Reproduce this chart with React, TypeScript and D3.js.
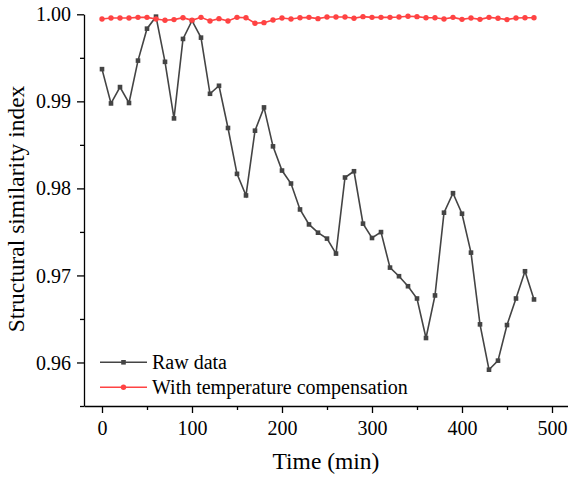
import React, { useEffect, useRef } from "react";
import * as d3 from "d3";

// time in minutes, one sample every 10 min
const times = d3.range(0, 481, 10);

const rawData = [
  0.9937, 0.98976, 0.99164, 0.98981, 0.99468, 0.99835, 0.99973, 0.99454, 0.98804, 0.99717,
  0.99927, 0.99732, 0.99087, 0.99179, 0.98694, 0.98167, 0.97919, 0.98663, 0.9893, 0.98483,
  0.98205, 0.98056, 0.97758, 0.97586, 0.97491, 0.97423, 0.97251, 0.98125, 0.98197, 0.97595,
  0.9743, 0.97498, 0.9709, 0.96991, 0.96876, 0.96735, 0.96281, 0.9677, 0.97721, 0.97945,
  0.97709, 0.97262, 0.96438, 0.95917, 0.96021, 0.9643, 0.96735, 0.97048, 0.96724,
];

const compensated = [
  0.99946, 0.99958, 0.99958, 0.99958, 0.99965, 0.99965, 0.99946, 0.99931, 0.99939, 0.99961,
  0.99931, 0.99965, 0.99923, 0.9995, 0.99923, 0.99965, 0.99961, 0.99897, 0.99904, 0.99935,
  0.99958, 0.99946, 0.99961, 0.99965, 0.9995, 0.99969, 0.99969, 0.99969, 0.99954, 0.99973,
  0.99965, 0.99965, 0.99965, 0.99969, 0.99977, 0.99973, 0.99961, 0.99961, 0.99946, 0.99965,
  0.99942, 0.99958, 0.99942, 0.99965, 0.99954, 0.99939, 0.99958, 0.99961, 0.99961,
];

const xTicks = [0, 100, 200, 300, 400, 500];
const xMinor = [50, 150, 250, 350, 450];
const yTicks = [0.96, 0.97, 0.98, 0.99, 1.0];
const yMinor = [0.955, 0.965, 0.975, 0.985, 0.995];

const legendLabels = ["Raw data", "With temperature compensation"];

const FONT = "Liberation Serif";
const BLACK = "#444444";
const RED = "#ff4343";

export default function App() {
  const ref = useRef<SVGSVGElement>(null);

  useEffect(() => {
    const svg = d3.select(ref.current);
    svg.selectAll("*").remove();

    const left = 84;
    const top = 14.3;
    const bottom = 406;

    const x = d3.scaleLinear().domain([-20, 520]).range([left, left + 540 * 0.9]);
    const y = d3.scaleLinear().domain([0.955, 1.0]).range([bottom, top]);

    const g = svg.append("g");

    // axes
    const xAxis = g.append("g").attr("transform", `translate(0,${bottom})`)
      .call(d3.axisBottom(x).tickValues(xTicks).tickFormat(d3.format("d"))
        .tickSize(7).tickSizeOuter(0).tickPadding(8));
    g.append("g").attr("transform", `translate(0,${bottom})`)
      .call(d3.axisBottom(x).tickValues(xMinor).tickFormat(() => "").tickSize(4).tickSizeOuter(0))
      .select(".domain").remove();

    const yAxis = g.append("g").attr("transform", `translate(${left},0)`)
      .call(d3.axisLeft(y).tickValues(yTicks).tickFormat(d3.format(".2f"))
        .tickSize(7).tickSizeOuter(0).tickPadding(6));
    g.append("g").attr("transform", `translate(${left},0)`)
      .call(d3.axisLeft(y).tickValues(yMinor).tickFormat(() => "").tickSize(4).tickSizeOuter(0))
      .select(".domain").remove();

    g.selectAll(".domain, .tick line").attr("stroke", "#000").attr("stroke-width", 1.3);
    [xAxis, yAxis].forEach((a) => {
      a.attr("font-family", FONT).attr("font-size", 20);
      a.selectAll("text").style("font-family", FONT).attr("fill", "#000");
    });
    yAxis.selectAll("text").attr("dy", "0.33em");

    // axis titles
    svg.append("text")
      .attr("x", left + 242)
      .attr("y", 469)
      .attr("text-anchor", "middle")
      .style("font-family", FONT)
      .attr("font-size", 23.5)
      .text("Time (min)");

    svg.append("text")
      .attr("transform", "translate(24,209) rotate(-90)")
      .attr("text-anchor", "middle")
      .style("font-family", FONT)
      .attr("font-size", 23.5)
      .text("Structural similarity index");

    const line = d3.line<number>().x((_, i) => x(times[i])).y((d) => y(d));

    // raw data
    g.append("path").datum(rawData)
      .attr("d", line).attr("fill", "none").attr("stroke", BLACK).attr("stroke-width", 1.6);
    g.selectAll(".sq").data(rawData).join("rect")
      .attr("class", "sq")
      .attr("x", (_, i) => x(times[i]) - 2.3)
      .attr("y", (d) => y(d) - 2.3)
      .attr("width", 4.6).attr("height", 4.6)
      .attr("fill", BLACK);

    // compensated
    g.append("path").datum(compensated)
      .attr("d", line).attr("fill", "none").attr("stroke", RED).attr("stroke-width", 1.6);
    g.selectAll(".dot").data(compensated).join("circle")
      .attr("class", "dot")
      .attr("cx", (_, i) => x(times[i]))
      .attr("cy", (d) => y(d))
      .attr("r", 2.7)
      .attr("fill", RED);

    // legend
    const legend = svg.append("g");
    legendLabels.forEach((label, i) => {
      const ly = 362.3 + i * 25;
      const color = i === 0 ? BLACK : RED;
      legend.append("line")
        .attr("x1", 100).attr("x2", 147).attr("y1", ly).attr("y2", ly)
        .attr("stroke", color).attr("stroke-width", 1.6);
      if (i === 0) {
        legend.append("rect").attr("x", 121.2).attr("y", ly - 2.3)
          .attr("width", 4.6).attr("height", 4.6).attr("fill", color);
      } else {
        legend.append("circle").attr("cx", 123.5).attr("cy", ly).attr("r", 2.7).attr("fill", color);
      }
      legend.append("text")
        .attr("x", 152).attr("y", ly).attr("dy", "0.35em")
        .style("font-family", FONT).attr("font-size", 20)
        .text(label);
    });
  }, []);

  return (
    <svg
      ref={ref}
      width={568}
      height={477}
      style={{ position: "absolute", left: 0, top: 0, background: "#fff" }}
    />
  );
}
